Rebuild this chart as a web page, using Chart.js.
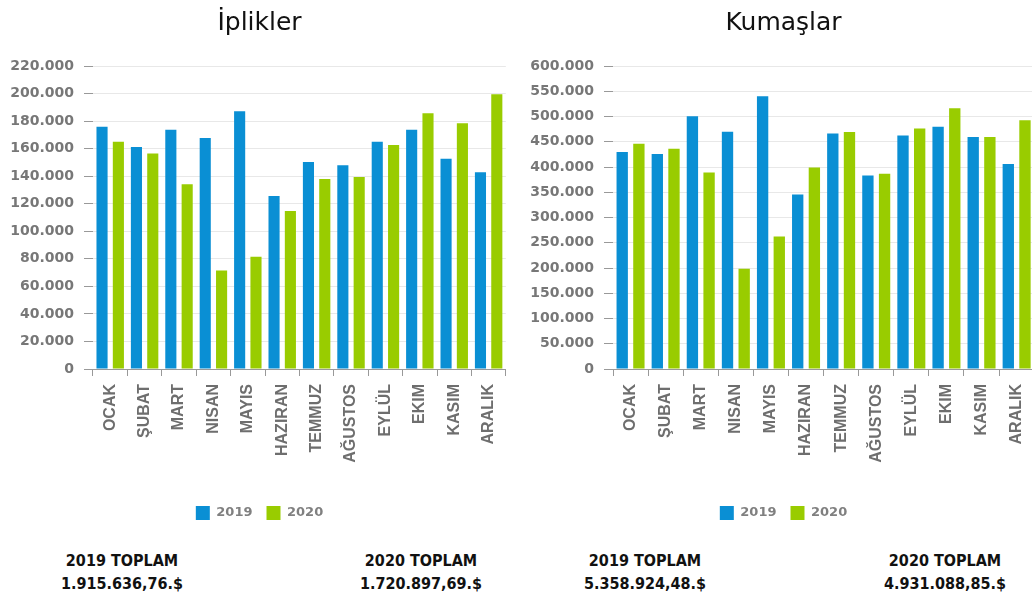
<!DOCTYPE html>
<html>
<head>
<meta charset="utf-8">
<script src="https://cdn.jsdelivr.net/npm/chart.js@4/dist/chart.umd.min.js"></script>
<style>
  html, body { margin: 0; padding: 0; background: #fff; }
  body { width: 1032px; height: 601px; overflow: hidden; position: relative; }
  .box { position: absolute; top: 0; }
  .total {
    position: absolute; width: 160px; text-align: center;
    font-family: "DejaVu Sans Condensed", "DejaVu Sans", sans-serif;
    font-weight: bold; font-size: 16px; color: #111; line-height: 23px;
  }
</style>
</head>
<body>
<div class="box" style="left:0px"><canvas id="iplik" width="516" height="530"></canvas></div>
<div class="box" style="left:520px"><canvas id="kumas" width="524" height="530"></canvas></div>
<div id="totals"></div>

<script>
var months = ['OCAK', 'ŞUBAT', 'MART', 'NISAN', 'MAYIS', 'HAZIRAN', 'TEMMUZ', 'AĞUSTOS', 'EYLÜL', 'EKIM', 'KASIM', 'ARALIK'];
var years = ['2019', '2020'];

var iplik2019 = [175900, 161200, 173700, 167700, 187200, 125700, 150300, 147900, 165000, 173700, 152700, 142800];
var iplik2020 = [165000, 156500, 134100, 71600, 81500, 114800, 138000, 139400, 162600, 185700, 178500, 199500];
var kumas2019 = [429700, 425800, 500500, 469800, 540100, 345600, 466500, 383000, 462600, 479700, 459300, 406000];
var kumas2020 = [446100, 436300, 389000, 198400, 262200, 398800, 469100, 386400, 476400, 516500, 459300, 492800];

var iplikMax = 220000, iplikStep = 20000;
var kumasMax = 600000, kumasStep = 50000;

var totalLabels = ['2019 TOPLAM', '2020 TOPLAM', '2019 TOPLAM', '2020 TOPLAM'];
var totalValues = ['1.915.636,76.$', '1.720.897,69.$', '5.358.924,48.$', '4.931.088,85.$'];

var blue = '#0a8fd4';
var green = '#99cc00';

function dots(v) {
  return String(v).replace(/\B(?=(\d{3})+(?!\d))/g, '.');
}

function makeChart(id, title, a, b, max, step) {
  var ctx = document.getElementById(id).getContext('2d');
  return new Chart(ctx, {
    type: 'bar',
    data: {
      labels: months,
      datasets: [
        { label: years[0], backgroundColor: blue, data: a, categoryPercentage: 0.95, barPercentage: 0.68 },
        { label: years[1], backgroundColor: green, data: b, categoryPercentage: 0.95, barPercentage: 0.68 }
      ]
    },
    options: {
      responsive: false,
      animation: false,
      layout: { padding: { left: 7, right: 4, top: 0, bottom: 0 } },
      plugins: {
        title: {
          display: true,
          text: title,
          color: '#111',
          font: { family: 'DejaVu Sans', size: 25, weight: 'normal' },
          padding: { top: 8, bottom: 28 }
        },
        legend: {
          position: 'bottom',
          labels: {
            boxWidth: 14,
            boxHeight: 14,
            padding: 14,
            color: '#808080',
            font: { family: 'DejaVu Sans', size: 13, weight: 'bold' }
          }
        },
        tooltip: { enabled: false }
      },
      scales: {
        x: {
          afterFit: function (s) { s.height = 123; },
          grid: { display: true, drawOnChartArea: false, color: '#999', tickLength: 7, offset: true },
          border: { color: '#999' },
          ticks: {
            minRotation: 90, maxRotation: 90, autoSkip: false, padding: 8,
            color: '#6e6e6e',
            font: { family: 'Liberation Sans', size: 16, weight: 'bold' }
          }
        },
        y: {
          min: 0,
          max: max,
          afterFit: function (s) { s.width = 86; },
          grid: { color: '#e8e8e8', tickColor: '#999', tickLength: 9 },
          border: { display: false },
          ticks: {
            stepSize: step,
            padding: 10,
            color: '#777',
            font: { family: 'DejaVu Sans', size: 14, weight: 'bold' },
            callback: function (v) { return dots(v); }
          }
        }
      }
    }
  });
}

makeChart('iplik', 'İplikler', iplik2019, iplik2020, iplikMax, iplikStep);
makeChart('kumas', 'Kumaşlar', kumas2019, kumas2020, kumasMax, kumasStep);

// totals under the charts
var centers = [122, 421, 645, 945];
var holder = document.getElementById('totals');
for (var i = 0; i < totalLabels.length; i++) {
  var d = document.createElement('div');
  d.className = 'total';
  d.style.left = (centers[i] - 80) + 'px';
  d.style.top = '549px';
  d.innerHTML = totalLabels[i] + '<br>' + totalValues[i];
  holder.appendChild(d);
}
</script>
</body>
</html>
